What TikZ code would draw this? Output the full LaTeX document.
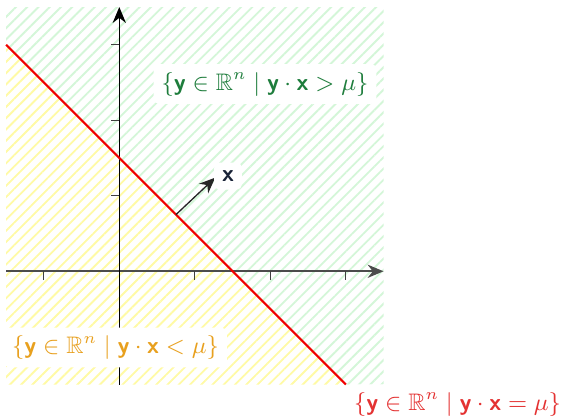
\documentclass[tikz,border=0pt]{standalone}
\usepackage{amsmath,amssymb}
\usetikzlibrary{arrows.meta,patterns.meta}
\newcommand{\bv}[1]{\text{\sffamily\bfseries #1}}
\definecolor{hgreen}{RGB}{212,246,216}
\definecolor{hyellow}{RGB}{255,250,165}
\definecolor{tgreen}{RGB}{30,125,60}
\definecolor{torange}{RGB}{232,160,30}
\definecolor{tred}{RGB}{228,50,50}
\definecolor{lred}{RGB}{240,0,0}
\definecolor{tnavy}{RGB}{25,35,55}
\tikzset{
  hatch/.style={pattern={Lines[angle=45,distance=3pt,line width=0.7pt]},pattern color=#1},
  setlabel/.style={fill=white,text=#1,inner sep=3pt,rounded corners=2pt,font=\small},
  axisline/.style={-{Stealth[length=6pt,width=5pt]}},
  tickmark/.style={line width=0.5pt,draw=black!75},
}
\begin{document}
\begin{tikzpicture}[x=1cm,y=1cm]
\useasboundingbox (-1.58,-1.93) rectangle (5.89,3.593);
% half-planes
\path[hatch=hgreen] (-1.5,3) -- (-1.5,3.5) -- (3.5,3.5) -- (3.5,-1.5) -- (3,-1.5) -- cycle;
\path[hatch=hyellow] (-1.5,3) -- (3,-1.5) -- (-1.5,-1.5) -- cycle;
% axes
\draw[axisline,draw=black!70,line width=0.6pt] (-1.5,0) -- (3.5,0);
\draw[axisline,line width=0.4pt] (0,-1.5) -- (0,3.5);
\foreach \t in {-1,1,2,3} \draw[tickmark] (\t,0) -- (\t,-0.11);
\foreach \t in {1,2,3} \draw[tickmark] (0,\t) -- (-0.11,\t);
% hyperplane
\draw[lred,line width=0.8pt] (-1.5,3) -- (3,-1.5);
% normal vector
\coordinate (p) at (0.75,0.75);
\coordinate (q) at (1.27,1.24);
\draw[-{Stealth[length=6pt,width=5pt]},line width=0.5pt,draw=black!85] (p) -- (q);
\node[setlabel=tnavy] (xl) at (1.44,1.26) {$\bv{x}$};
% labels
\node[setlabel=tgreen] (above) at (1.93,2.48) {$\{\bv{y}\in\mathbb{R}^n \mid \bv{y}\cdot\bv{x} > \mu\}$};
\node[setlabel=torange] (below) at (-0.05,-1.01) {$\{\bv{y}\in\mathbb{R}^n \mid \bv{y}\cdot\bv{x} < \mu\}$};
\node[setlabel=tred] (onplane) at (4.48,-1.76) {$\{\bv{y}\in\mathbb{R}^n \mid \bv{y}\cdot\bv{x} = \mu\}$};
\end{tikzpicture}
\end{document}
